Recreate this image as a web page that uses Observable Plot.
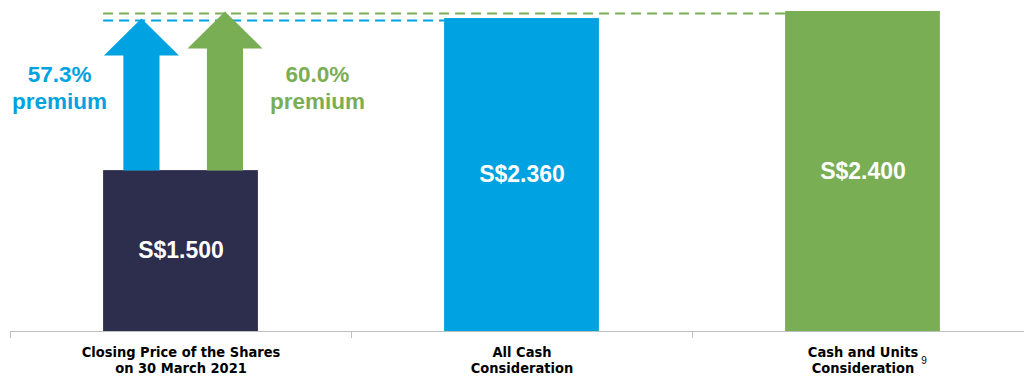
<!DOCTYPE html>
<html><head><meta charset="utf-8">
<script src="https://cdn.jsdelivr.net/npm/d3@7"></script>
<script src="https://cdn.jsdelivr.net/npm/@observablehq/plot@0.6"></script>
<style>body{margin:0;background:#fff;}</style>
</head><body><div id="chart"></div>
<script>
// ---- data ----
const categories = ["Closing Price of the Shares\non 30 March 2021", "All Cash\nConsideration", "Cash and Units\nConsideration"];
const values = [1.5, 2.36, 2.4];
const valueLabels = ["S$1.500", "S$2.360", "S$2.400"];
const barColors = ["#2D2D4D", "#00A2E1", "#7AAE55"];
const premiumLabels = ["57.3%\npremium", "60.0%\npremium"];
const premiumTargets = [1, 2];
const footnote = "9";

// ---- layout ----
const yMin = 0.59;
const barHalf = 0.227;
const arrowOffset = [-0.116, 0.129];
const labelOffset = [-0.356, 0.40];
const labelY = 1.973;
const shaftHalf = 0.053, headHalf = 0.11, headH = 0.209;
const narrow = "'Liberation Sans Narrow','Arial Narrow','DejaVu Sans Condensed',sans-serif";
const sans = "'Liberation Sans',Arial,sans-serif";

const idx = values.map((_, i) => i);

function arrowPts(k) {
  const t = premiumTargets[k];
  const cx = arrowOffset[k];
  const base = values[0], tip = values[t], hb = tip - headH;
  return [[cx - shaftHalf, base], [cx - shaftHalf, hb], [cx - headHalf, hb], [cx, tip],
          [cx + headHalf, hb], [cx + shaftHalf, hb], [cx + shaftHalf, base], [cx - shaftHalf, base]];
}

const marks = [
  Plot.rect(idx, {x1: i => i - barHalf, x2: i => i + barHalf, y1: yMin, y2: i => values[i], fill: i => barColors[i]})
];
premiumTargets.forEach((t, k) => {
  const col = barColors[t];
  marks.push(Plot.ruleY([values[t]], {x1: -barHalf, x2: t - barHalf, stroke: col, strokeWidth: 2, strokeDasharray: "10,6", dy: 2}));
  marks.push(Plot.line(arrowPts(k), {x: d => d[0], y: d => d[1], fill: col, stroke: "none"}));
  marks.push(Plot.text([premiumLabels[k]], {x: labelOffset[k], y: labelY, text: d => d, fill: col, fontSize: 22.5, fontWeight: "bold", fontFamily: sans, lineHeight: 1.2}));
});

marks.push(
  Plot.text(idx, {x: i => i, y: i => (yMin + values[i]) / 2, text: i => valueLabels[i], fill: "white", fontSize: 23, fontWeight: "bold", fontFamily: sans}),
  Plot.ruleY([yMin], {stroke: "#BFBFBF"}),
  Plot.axisX({ticks: [-0.5, 0.5, 1.5], tickFormat: () => "", tickSize: 7, stroke: "#BFBFBF", tickPadding: 0}),
  Plot.text(idx, {x: i => i, y: yMin, dy: 14, lineAnchor: "top", text: i => categories[i], fill: "black", fontSize: 14.5, fontWeight: "bold", fontFamily: narrow, lineHeight: 1.12}),
  Plot.text([footnote], {x: 2, y: yMin, dy: 25, dx: 61, text: d => d, fill: "black", fontSize: 10, fontFamily: sans, lineAnchor: "top"})
);

const chart = Plot.plot({
  width: 1024, height: 376,
  marginLeft: 10, marginRight: 0, marginTop: 11, marginBottom: 45,
  x: {type: "linear", domain: [-0.5, 2.5], range: [10, 1033], axis: null},
  y: {domain: [yMin, 2.4], axis: null},
  color: {type: "identity"},
  style: {background: "white", overflow: "visible"},
  marks
});
document.getElementById("chart").appendChild(chart);
</script></body></html>
